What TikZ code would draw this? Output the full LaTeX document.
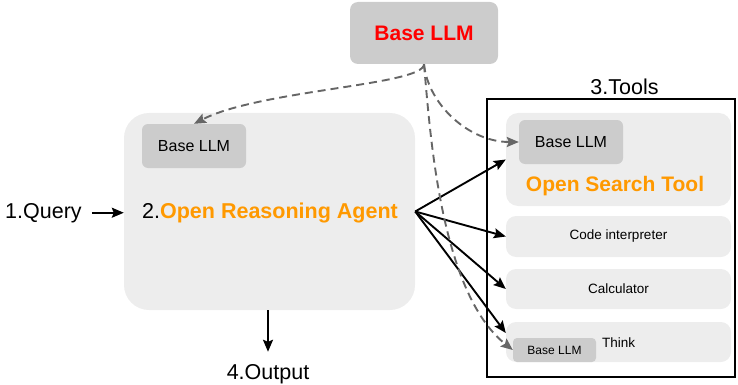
\documentclass[tikz,border=0pt]{standalone}
\usepackage{fontspec}
\setmainfont{Liberation Sans}
\usetikzlibrary{arrows.meta}
\definecolor{llmgray}{HTML}{CCCCCC}
\definecolor{boxgray}{HTML}{EDEDED}
\definecolor{dashgray}{HTML}{666666}
\definecolor{agentorange}{HTML}{FF9900}

\begin{document}
\begin{tikzpicture}[x=1pt,y=-1pt,
  llm/.style={fill=llmgray,rounded corners=6pt,inner sep=0pt,minimum width=104pt,minimum height=44pt,font=\fontsize{16}{19}\selectfont},
  tool/.style={fill=boxgray,rounded corners=10pt,inner sep=0pt,minimum width=225pt,font=\fontsize{13.5}{16}\selectfont},
  call/.style={-{Stealth[length=12pt,width=10pt,inset=2pt]},line width=1.9pt},
  feed/.style={dash pattern=on 8pt off 5pt,dashgray,line width=1.9pt,-{Stealth[length=12pt,width=10pt,inset=2pt]}},
  big/.style={inner sep=0pt,font=\fontsize{21.5}{24}\selectfont}]

  \useasboundingbox (0,0) rectangle (738,385);

  \node[llm,minimum width=148pt,minimum height=62pt,rounded corners=8pt,
    font=\fontsize{21}{24}\selectfont\bfseries,text=red] (basellm) at (424,33) {Base LLM};

  \node[fill=boxgray,rounded corners=25pt,minimum width=291pt,minimum height=197pt] (agent) at (269.5,211.5) {};
  \node[llm] (agentllm) at (194,146) {Base LLM};
  \node[big,anchor=base west] (agenttxt) at (142,218) {2.\textcolor{agentorange}{\bfseries Open Reasoning Agent}};

  \node[big,anchor=base west] (query) at (5,218) {1.Query};
  \draw[call] ([xshift=10pt]query.east) -- (query.east -| agent.west);

  \node[big,anchor=base] (output) at (268,379) {4.Output};
  \draw[call] (output.north |- agent.south) -- ([yshift=12pt]output.north);

  \node[draw,line width=2pt,inner sep=0pt,minimum width=248pt,minimum height=278pt] (tools) at (611,238) {};
  \node[big] (toolslbl) at (624.5,87) {3.Tools};

  \node[tool,minimum height=93pt,rounded corners=12pt] (search) at (618.5,159.5) {};
  \node[llm] (searchllm) at (571,142) {Base LLM};
  \node[inner sep=0pt,font=\fontsize{21}{24}\selectfont\bfseries,text=agentorange] (searchtxt) at (615,186) {Open Search Tool};

  \node[tool,minimum height=41pt] (code) at (618.5,236.5) {Code interpreter};
  \node[tool,minimum height=40pt] (calc) at (618.5,289) {Calculator};
  \node[tool,minimum height=40pt] (think) at (618.5,342) {};
  \node[llm,minimum width=83pt,minimum height=24pt,rounded corners=4pt,
    font=\fontsize{12}{14}\selectfont] (thinkllm) at (554.5,350) {Base LLM};
  \node[inner sep=0pt,anchor=base west,font=\fontsize{13.5}{16}\selectfont] (thinktxt) at (602,347) {Think};

  \draw[call] (agent.east) -- (search.west);
  \draw[call] (agent.east) -- (code.west);
  \draw[call] (agent.east) -- (calc.west);
  \draw[call] (agent.east) -- ([yshift=9pt]think.west);

  \draw[feed] (basellm.south) .. controls +(0,21) and +(66,-34) .. (agentllm.north);
  \draw[feed] (basellm.south) .. controls +(4,40) and +(-50,0) .. (searchllm.west);
  \draw[feed] (basellm.south) .. controls +(6,66) and +(-73,-58) .. (thinkllm.west);

\end{tikzpicture}
\end{document}
